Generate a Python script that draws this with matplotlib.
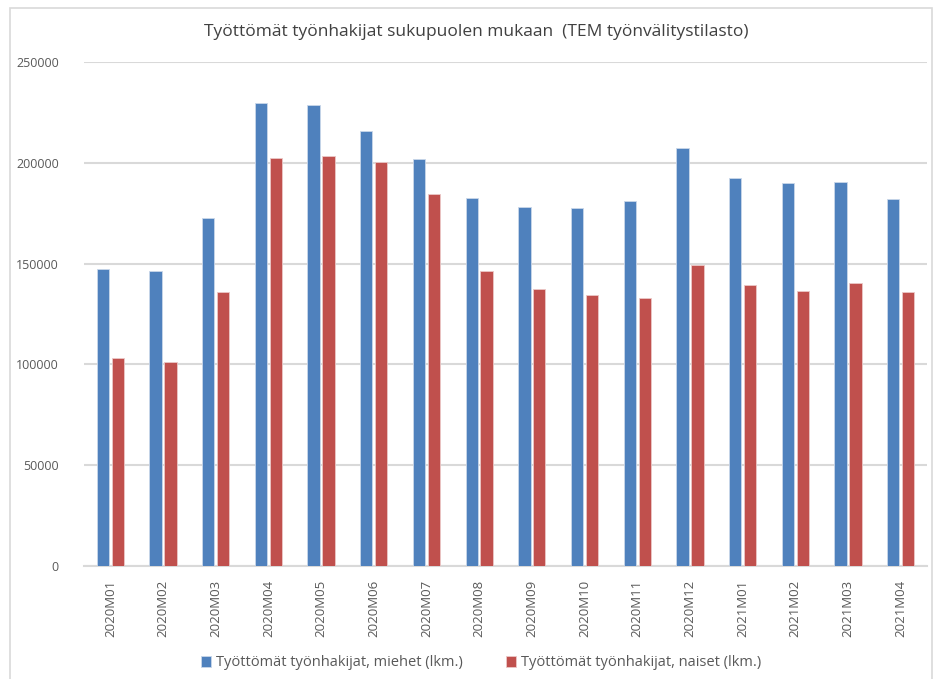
import matplotlib
matplotlib.use("Agg")
import matplotlib.pyplot as plt
import numpy as np
from matplotlib.patches import Rectangle

plt.rcParams['font.family'] = ['Open Sans', 'DejaVu Sans']

kuukaudet = ["2020M01", "2020M02", "2020M03", "2020M04", "2020M05", "2020M06",
             "2020M07", "2020M08", "2020M09", "2020M10", "2020M11", "2020M12",
             "2021M01", "2021M02", "2021M03", "2021M04"]
miehet = [147400, 146200, 172400, 229600, 228500, 216000, 202000, 182700,
          178000, 177700, 181000, 207200, 192500, 190100, 190300, 182000]
naiset = [103100, 101000, 136000, 202500, 203500, 200200, 184400, 146300,
          137300, 134300, 132900, 149400, 139300, 136500, 140300, 135700]
yticks = [0, 50000, 100000, 150000, 200000, 250000]

W, H = 940, 679
fig = plt.figure(figsize=(W / 100, H / 100), dpi=100)
ax = fig.add_axes([84 / W, 1 - 566 / H, (927 - 84) / W, (566 - 62) / H])

# chart border
fig.patches.append(Rectangle((10 / W, -0.01), (932 - 10) / W, 1 - 8 / H + 0.01,
                             transform=fig.transFigure, fill=False,
                             edgecolor="#D9D9D9", lw=1.2))

x = np.arange(len(kuukaudet))
w = 0.234
ax.bar(x - 0.142, miehet, w, color="#4F81BD", edgecolor="#C9D7EA", lw=0.6,
       label="Työttömät työnhakijat, miehet (lkm.)", zorder=3)
ax.bar(x + 0.142, naiset, w, color="#C0504D", edgecolor="#EBC8C7", lw=0.6,
       label="Työttömät työnhakijat, naiset (lkm.)", zorder=3)

ax.set_xlim(-0.5, len(kuukaudet) - 0.5)
ax.set_ylim(0, 250000)
ax.set_yticks(yticks)
ax.set_yticklabels([str(v) for v in yticks], fontsize=9, color="#595959")
ax.set_xticks(x)
ax.set_xticklabels(kuukaudet, rotation=90, fontsize=9.5, color="#595959")
ax.tick_params(axis="both", length=0)
ax.tick_params(axis="y", pad=18)
ax.tick_params(axis="x", pad=10)
ax.yaxis.grid(True, color="#D9D9D9", lw=1.5, zorder=0)
for s in ["top", "right", "left"]:
    ax.spines[s].set_visible(False)
ax.spines["bottom"].set_color("#D9D9D9")
ax.spines["bottom"].set_linewidth(1.5)

fig.text(476 / W, 1 - 32 / H, "Työttömät työnhakijat sukupuolen mukaan  (TEM työnvälitystilasto)",
         ha="center", va="center", fontsize=12.5, color="#404040")

fig.legend(loc="center", bbox_to_anchor=(481 / W, 1 - 663 / H), ncol=2, frameon=False,
           fontsize=10.5, labelcolor="#595959", handlelength=0.7, handleheight=0.7,
           handletextpad=0.3, columnspacing=3)

fig.savefig("out.png", dpi=100)
